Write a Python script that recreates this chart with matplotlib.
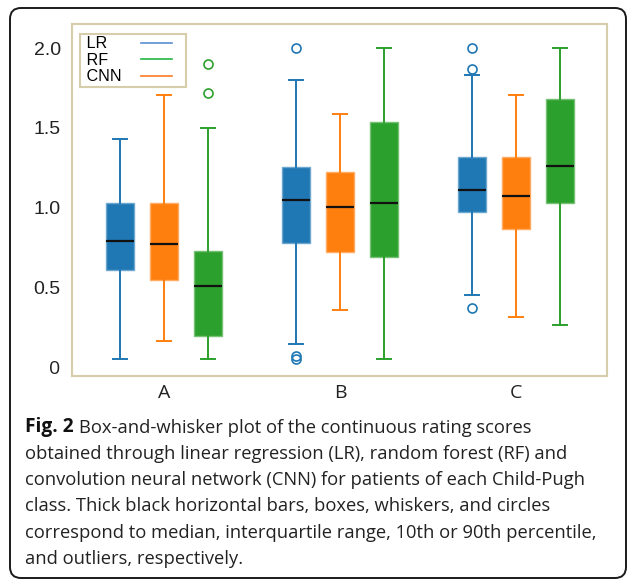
import matplotlib
matplotlib.use('Agg')
import matplotlib.pyplot as plt
from matplotlib.lines import Line2D
from matplotlib.patches import FancyBboxPatch
from matplotlib.transforms import IdentityTransform

# Child-Pugh classes on x
classes = ['A', 'B', 'C']
ytick_vals = [0, 0.5, 1.0, 1.5, 2.0]
ytick_labels = ['0', '0.5', '1.0', '1.5', '2.0']

# box stats per class: [whisker low, q1, median, q3, whisker high]
lr_stats = [[0.05, 0.61, 0.79, 1.03, 1.43],
            [0.14, 0.78, 1.05, 1.255, 1.80],
            [0.45, 0.97, 1.11, 1.315, 1.83]]
lr_fliers = [[], [2.0, 0.07, 0.05], [2.0, 1.87, 0.37]]

cnn_stats = [[0.16, 0.545, 0.77, 1.03, 1.71],
             [0.355, 0.72, 1.005, 1.225, 1.59],
             [0.315, 0.865, 1.07, 1.32, 1.71]]
cnn_fliers = [[], [], []]

rf_stats = [[0.05, 0.195, 0.51, 0.73, 1.50],
            [0.05, 0.69, 1.03, 1.54, 2.0],
            [0.26, 1.03, 1.26, 1.68, 2.0]]
rf_fliers = [[1.90, 1.72], [], []]

legend_labels = ['LR', 'RF', 'CNN']

caption = ['Box-and-whisker plot of the continuous rating scores',
           'obtained through linear regression (LR), random forest (RF) and',
           'convolution neural network (CNN) for patients of each Child-Pugh',
           'class. Thick black horizontal bars, boxes, whiskers, and circles',
           'correspond to median, interquartile range, 10th or 90th percentile,',
           'and outliers, respectively.']

blue, orange, green = '#1f77b4', '#ff7f0e', '#2ca02c'
leg_cols = ['#5a8fd2', '#22b843', '#ff7a22']
spine_col = '#d6cdab'

W, H = 627, 580
fig = plt.figure(figsize=(W / 100, H / 100), dpi=100)

# outer rounded frame
frame = FancyBboxPatch((10, 2), 616, 570, boxstyle='round,pad=0,rounding_size=11',
                       transform=IdentityTransform(), fill=False, ec='#1a1a1a', lw=1.4)
fig.add_artist(frame)

ax = fig.add_axes([71.7 / W, 1 - 376 / H, (607.3 - 71.7) / W, (376 - 24.3) / H])


def light(c, f=0.35):
    r, g, b = matplotlib.colors.to_rgb(c)
    return (r + (1 - r) * f, g + (1 - g) * f, b + (1 - b) * f)


series = [(lr_stats, lr_fliers, blue, -0.25),
          (cnn_stats, cnn_fliers, orange, 0.0),
          (rf_stats, rf_fliers, green, 0.25)]
for stats, fliers, col, off in series:
    bx = []
    for s, f in zip(stats, fliers):
        bx.append(dict(whislo=s[0], q1=s[1], med=s[2], q3=s[3], whishi=s[4], fliers=f))
    pos = [i + off for i in range(len(classes))]
    ax.bxp(bx, positions=pos, widths=0.16, capwidths=0.075, patch_artist=True,
           boxprops=dict(facecolor=col, edgecolor=light(col), lw=1.0),
           whiskerprops=dict(color=col, lw=1.4),
           capprops=dict(color=col, lw=1.4),
           medianprops=dict(color='#111111', lw=1.6),
           flierprops=dict(marker='o', markerfacecolor='none', markeredgecolor=col,
                           markersize=6.5, markeredgewidth=1.2))

ax.set_xlim(-0.524, 2.519)
ax.set_ylim(-0.058, 2.151)
ax.set_xticks(range(len(classes)))
ax.set_xticklabels(classes, family='Open Sans', fontsize=14, color='#222222')
ax.set_yticks(ytick_vals)
ax.set_yticklabels(ytick_labels, family='Liberation Sans', fontsize=14, color='#222222')
ax.get_yticklabels()[0].set_family('Open Sans')
ax.tick_params(axis='y', length=0, pad=7.9)
ax.tick_params(axis='x', length=0, pad=5.5)
for sp in ax.spines.values():
    sp.set_color(spine_col)
    sp.set_linewidth(1.5)

handles = [Line2D([], [], color=c, lw=1.2) for c in leg_cols]
leg = ax.legend(handles, [' ' + s for s in legend_labels], loc='upper left',
                bbox_to_anchor=(0.0155, 0.5, 0.197, 0.4724), mode='expand',
                borderaxespad=0, markerfirst=False, fancybox=False,
                prop=dict(family='Liberation Sans', size=11.6),
                handlelength=1.9, handletextpad=1.2, labelspacing=0.1,
                borderpad=0.14)
leg.get_frame().set_edgecolor(spine_col)
leg.get_frame().set_linewidth(1.5)
leg.get_frame().set_alpha(None)
for t in leg.get_texts():
    t.set_color('#000000')

# line up the label texts on the left
fig.canvas.draw()
r = fig.canvas.get_renderer()
rows = leg._legend_handle_box.get_children()[0].get_children()
ws = [t.get_window_extent(r).width for t in leg.get_texts()]
for hp, w in zip(rows, ws):
    hp.sep += (max(ws) - w) * 72 / fig.dpi

# caption
cap_font = dict(family='Open Sans', fontsize=13.25, color='#222222')
y0 = 432.3
for i, line in enumerate(caption):
    yy = 1 - (y0 + 26.3 * i) / H
    if i == 0:
        t = fig.text(25 / W, yy, 'Fig. 2', fontweight='bold', va='baseline',
                     family='Open Sans', fontsize=13.8, color='#111111')
        ax.annotate(line, xy=(1, 0), xycoords=t, xytext=(4, 0), textcoords='offset points',
                    va='bottom', annotation_clip=False, **cap_font)
    else:
        fig.text(25 / W, yy, line, va='baseline', **cap_font)

fig.savefig('out.png', dpi=100)
